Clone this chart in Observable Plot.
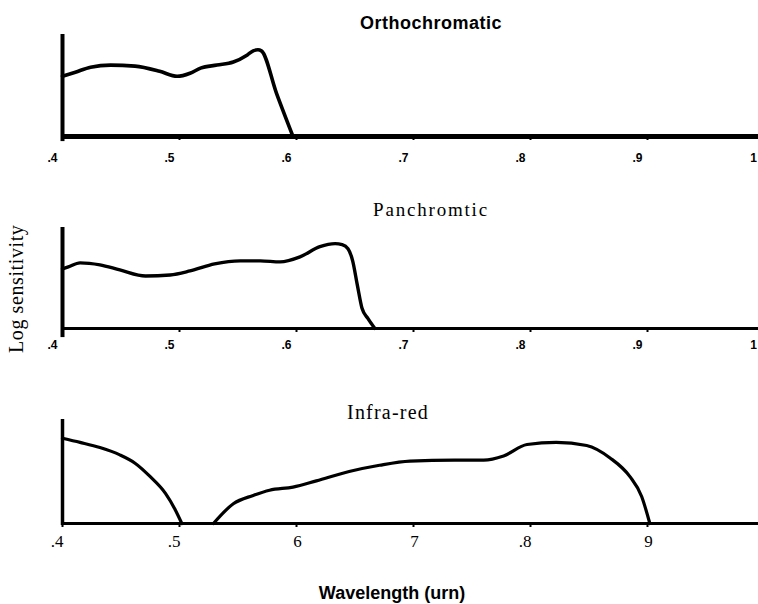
<!DOCTYPE html>
<html>
<head>
<meta charset="utf-8">
<script src="https://cdn.jsdelivr.net/npm/d3@7"></script>
<script src="https://cdn.jsdelivr.net/npm/@observablehq/plot@0.6"></script>
<style>
  html, body { margin: 0; padding: 0; background: #fff; }
  #chart { position: relative; width: 758px; height: 604px; overflow: hidden; background: #fff; }
  #chart .panel { position: absolute; left: 0; }
  #chart .lbl { position: absolute; white-space: nowrap; color: #000; }
  .sans { font-family: "Liberation Sans", Arial, Helvetica, sans-serif; font-weight: bold; }
  .serif { font-family: "Liberation Serif", "Times New Roman", Times, serif; }
</style>
</head>
<body>
<div id="chart"></div>
<script>
// ---------- data ----------
const titles = ["Orthochromatic", "Panchromtic", "Infra-red"];
const yLabel = "Log sensitivity";
const xLabel = "Wavelength (urn)";

// Orthochromatic
const orthoWl   = [0.400, 0.411, 0.424, 0.441, 0.462, 0.483, 0.498, 0.509, 0.518, 0.532, 0.546, 0.558, 0.563, 0.567, 0.570, 0.583, 0.597];
const orthoSens = [0.59, 0.63, 0.68, 0.70, 0.69, 0.64, 0.59, 0.62, 0.67, 0.70, 0.73, 0.80, 0.84, 0.85, 0.84, 0.42, 0.00];

// Panchromatic
const panWl   = [0.400, 0.405, 0.415, 0.432, 0.449, 0.471, 0.492, 0.509, 0.530, 0.552, 0.569, 0.586, 0.603, 0.620, 0.633, 0.639, 0.644, 0.648, 0.652, 0.656, 0.661, 0.667];
const panSens = [0.59, 0.61, 0.65, 0.63, 0.58, 0.52, 0.53, 0.57, 0.64, 0.67, 0.67, 0.66, 0.71, 0.81, 0.84, 0.83, 0.79, 0.67, 0.43, 0.20, 0.10, 0.00];

// Infra-red (two branches)
const irWl1   = [0.400, 0.415, 0.432, 0.449, 0.462, 0.475, 0.488, 0.496, 0.502];
const irSens1 = [0.82, 0.78, 0.73, 0.66, 0.58, 0.45, 0.29, 0.14, 0.00];
const irWl2   = [0.529, 0.546, 0.563, 0.577, 0.597, 0.617, 0.645, 0.671, 0.697, 0.735, 0.760, 0.777, 0.797, 0.822, 0.848, 0.868, 0.885, 0.895, 0.902];
const irSens2 = [0.00, 0.19, 0.27, 0.32, 0.35, 0.41, 0.50, 0.56, 0.60, 0.61, 0.61, 0.65, 0.76, 0.78, 0.75, 0.63, 0.45, 0.26, 0.00];

// tick values and labels
const tickValues = [0.4, 0.5, 0.6, 0.7, 0.8, 0.9, 1.0];
const tickLabelsOrtho = [".4", ".5", ".6", ".7", ".8", ".9", "1"];
const tickLabelsPan   = [".4", ".5", ".6", ".7", ".8", ".9", "1"];
const tickLabelsIR    = [".4", ".5", "6", "7", ".8", "9"];

// ---------- helpers ----------
const rows = (xs, ys) => xs.map((x, i) => ({x, y: ys[i]}));
const labelRows = (labels) => labels.map((t, i) => ({x: tickValues[i], t}));
const SANS = "Liberation Sans, Arial, Helvetica, sans-serif";
const SERIF = "Liberation Serif, Times New Roman, Times, serif";

function panel({height, marginTop, marginBottom, curves, labels, labelFont, labelSize, labelWeight, labelDy, dotDx, plainDx, axisW, axisBottom, baseW, curveW}) {
  return Plot.plot({
    width: 758,
    height,
    marginTop,
    marginBottom,
    marginLeft: 62,
    marginRight: 0,
    x: {domain: [0.4, 1.0], range: [62, 764], axis: null},
    y: {domain: [0, 1], axis: null},
    style: {background: "transparent"},
    marks: [
      Plot.ruleY([0], {x1: 0.4, x2: 1.0, stroke: "black", strokeWidth: baseW}),
      Plot.ruleX([0.4], {y1: axisBottom, y2: 1, stroke: "black", strokeWidth: axisW}),
      Plot.axisX(tickValues, {tickSize: 4, tickFormat: () => "", label: null, stroke: "black", strokeWidth: 2}),
      ...curves.map(c => Plot.line(c, {x: "x", y: "y", curve: "monotone-x", stroke: "black", strokeWidth: curveW, strokeLinejoin: "round", strokeLinecap: "round"})),
      Plot.text(labelRows(labels), {filter: d => d.t.startsWith("."), x: "x", text: "t", frameAnchor: "bottom", dy: labelDy, dx: dotDx, textAnchor: "end", fontFamily: labelFont, fontSize: labelSize, fontWeight: labelWeight, fill: "black"}),
      Plot.text(labelRows(labels), {filter: d => !d.t.startsWith("."), x: "x", text: "t", frameAnchor: "bottom", dy: labelDy, dx: plainDx, textAnchor: "middle", fontFamily: labelFont, fontSize: labelSize, fontWeight: labelWeight, fill: "black"})
    ]
  });
}

const chart = document.getElementById("chart");
function place(node, top) {
  node.classList.add("panel");
  node.style.top = top + "px";
  chart.appendChild(node);
}

place(panel({
  height: 180, marginTop: 34, marginBottom: 44,
  curves: [rows(orthoWl, orthoSens)],
  labels: tickLabelsOrtho, labelFont: SANS, labelSize: 12, labelWeight: "bold",
  labelDy: 25, dotDx: -5, plainDx: -11, axisW: 4, axisBottom: -0.05, baseW: 5, curveW: 3.6
}), 0);

place(panel({
  height: 200, marginTop: 47, marginBottom: 52,
  curves: [rows(panWl, panSens)],
  labels: tickLabelsPan, labelFont: SANS, labelSize: 12, labelWeight: "bold",
  labelDy: 20, dotDx: -5, plainDx: -11, axisW: 4, axisBottom: -0.09, baseW: 2.8, curveW: 3.4
}), 180);

place(panel({
  height: 190, marginTop: 39, marginBottom: 47,
  curves: [rows(irWl1, irSens1), rows(irWl2, irSens2)],
  labels: tickLabelsIR, labelFont: SERIF, labelSize: 17, labelWeight: "normal",
  labelDy: 23, dotDx: 1, plainDx: 1, axisW: 3.5, axisBottom: -0.02, baseW: 2.8, curveW: 3.2
}), 380);

// ---------- titles & axis labels ----------
function label(text, cls, css) {
  const d = document.createElement("div");
  d.className = "lbl " + cls;
  d.textContent = text;
  Object.assign(d.style, css);
  chart.appendChild(d);
  return d;
}
function centerAt(d, cx, baselineY, size) {
  d.style.fontSize = size + "px";
  d.style.lineHeight = size + "px";
  const w = d.getBoundingClientRect().width;
  d.style.left = (cx - w / 2) + "px";
  d.style.top = (baselineY - size * 0.8) + "px";
}
centerAt(label(titles[0], "sans", {letterSpacing: "0.5px"}), 431, 28, 18);
centerAt(label(titles[1], "serif", {letterSpacing: "1.8px"}), 431, 215, 19);
centerAt(label(titles[2], "serif", {letterSpacing: "1.2px"}), 388, 418, 20);
centerAt(label(xLabel, "sans", {}), 392, 598, 18);

const yl = label(yLabel, "serif", {fontSize: "20px", lineHeight: "20px", letterSpacing: "0.6px"});
const yw = yl.getBoundingClientRect().width;
yl.style.transformOrigin = "0 0";
yl.style.left = "6px";
yl.style.top = (289 + yw / 2) + "px";
yl.style.transform = "rotate(-90deg)";
</script>
</body>
</html>
